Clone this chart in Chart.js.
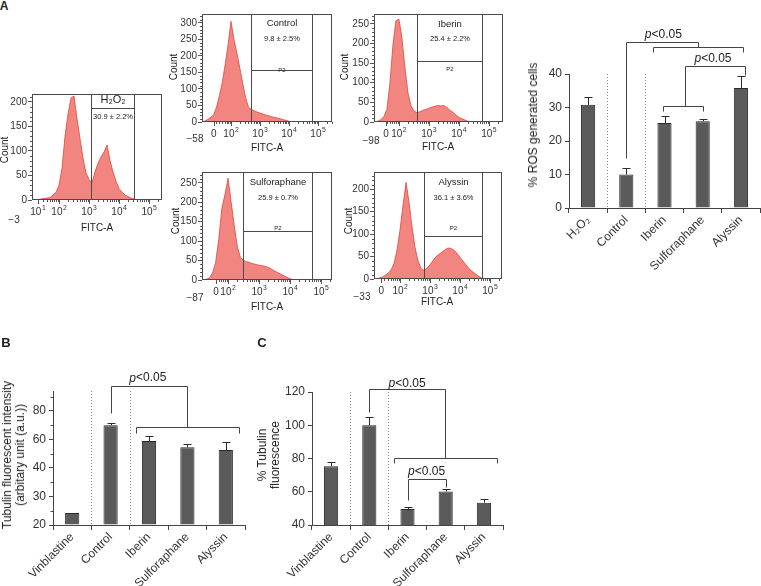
<!DOCTYPE html>
<html>
<head>
<meta charset="utf-8">
<script src="https://cdn.jsdelivr.net/npm/chart.js@4.4.1/dist/chart.umd.min.js"></script>
<style>
  html, body { margin: 0; padding: 0; background: #fff; }
  #fig { position: relative; width: 761px; height: 586px; overflow: hidden;
         font-family: "Liberation Sans", Arial, sans-serif; color: #222; }
  .lbl { position: absolute; white-space: nowrap; text-align: center; }
</style>
</head>
<body>
<div id="fig"></div>
<script>
const FONT = '"Liberation Sans", Arial, sans-serif';

// flow cytometry histograms, x in display decades (2 = 10^2, 3 = 10^3 ...)
const FACS_BINS = [1.0, 1.1, 1.2, 1.3, 1.4, 1.5, 1.6, 1.7, 1.8, 1.9,
                   2.0, 2.1, 2.2, 2.3, 2.4, 2.5, 2.6, 2.7, 2.8, 2.9,
                   3.0, 3.1, 3.2, 3.3, 3.4, 3.5, 3.6, 3.7, 3.8, 3.9,
                   4.0, 4.1, 4.2, 4.3, 4.4, 4.5, 4.6, 4.7, 4.8, 4.9];
const COUNTS_H2O2 = [0, 0, 0, 1, 2, 3, 4, 5, 10, 16,
                     30, 65, 130, 175, 208, 212, 165, 125, 85, 55,
                     42, 35, 58, 75, 88, 98, 112, 80, 57, 38,
                     23, 16, 10, 7, 4, 2, 0, 0, 0, 0];
const COUNTS_CONTROL = [0, 3, 8, 14, 22, 45, 80, 120, 175, 235,
                        305, 250, 210, 165, 118, 75, 45, 38, 34, 30,
                        27, 24, 21, 19, 16, 14, 12, 10, 7, 5,
                        2, 1, 0, 0, 0, 0, 0, 0, 0, 0];
const COUNTS_IBERIN = [0, 0, 0, 2, 6, 14, 32, 98, 195, 258,
                       262, 215, 140, 75, 42, 28, 24, 26, 30, 32,
                       35, 38, 40, 42, 41, 42, 37, 30, 25, 18,
                       12, 8, 5, 2, 0, 0, 0, 0, 0, 0];
const COUNTS_SULFORAPHANE = [0, 0, 0, 2, 5, 18, 45, 105, 185, 220,
                             262, 200, 140, 85, 58, 50, 47, 45, 42, 40,
                             38, 37, 35, 32, 28, 23, 19, 15, 11, 7,
                             3, 1, 0, 0, 0, 0, 0, 0, 0, 0];
const COUNTS_ALYSSIN = [0, 0, 0, 2, 4, 8, 13, 20, 35, 65,
                        110, 165, 215, 170, 115, 70, 40, 23, 19, 24,
                        32, 41, 50, 55, 60, 65, 69, 68, 64, 57,
                        48, 40, 31, 23, 17, 12, 7, 3, 0, 0];
const FACS_TICK_LABELS = ['0', '10²', '10³', '10⁴', '10⁵'];
const H2O2_TICK_LABELS = ['10¹', '10²', '10³', '10⁴', '10⁵'];

// bar charts
const ROS_LABELS = ['H₂O₂', 'Control', 'Iberin', 'Sulforaphane', 'Alyssin'];
const ROS_MEAN = [30.8, 10.0, 25.4, 25.9, 35.8];
const ROS_SD = [2.3, 1.9, 2.1, 0.6, 3.7];

const TUB_LABELS = ['Vinblastine', 'Control', 'Iberin', 'Sulforaphane', 'Alyssin'];
const TUB_INT_MEAN = [24.2, 70, 59, 54.5, 52.6];
const TUB_INT_SD = [0, 1.8, 3.5, 2.5, 5.8];
const TUB_INT_TICKS = [20, 30, 40, 60, 80];

const TUB_PCT_MEAN = [75.4, 100, 49.6, 60.2, 53.4];
const TUB_PCT_SD = [2.6, 5.2, 1.4, 1.2, 2.4];

const SUPER = { '¹': '1', '²': '2', '³': '3', '⁴': '4', '⁵': '5' };

const fig = document.getElementById('fig');

function addText(html, x, y, size, opts = {}) {
  const d = document.createElement('div');
  d.className = 'lbl';
  d.innerHTML = html;
  d.style.left = x + 'px';
  d.style.top = y + 'px';
  d.style.fontSize = size + 'px';
  d.style.lineHeight = (opts.lh || Math.round(size * 1.15)) + 'px';
  if (opts.bold) d.style.fontWeight = 'bold';
  d.style.transform = 'translate(-50%,-50%)' + (opts.rot ? ' rotate(-90deg)' : '');
  fig.appendChild(d);
}

function makeCanvas(box) {
  const c = document.createElement('canvas');
  c.width = box[2] - box[0];
  c.height = box[3] - box[1];
  c.style.cssText = `position:absolute;left:${box[0]}px;top:${box[1]}px;width:${c.width}px;height:${c.height}px`;
  fig.appendChild(c);
  return c;
}

// pin the chart area to a fixed rectangle inside the canvas
function fitLayout(box, area) {
  return {
    layout: { autoPadding: false, padding: { left: 0, bottom: 0, top: area[1] - box[1], right: box[2] - area[2] } },
    yW: area[0] - box[0],
    xH: box[3] - area[3]
  };
}

const px = (scale, v) => Math.round(scale.getPixelForValue(v)) + 0.5;

// "10²" -> 10 with a small raised exponent
function drawPow(ctx, lab, cx, cy, f) {
  const last = lab.slice(-1);
  const base = SUPER[last] ? lab.slice(0, -1) : lab;
  const exp = SUPER[last] || '';
  ctx.font = `${f}px ${FONT}`;
  const wb = ctx.measureText(base).width;
  ctx.font = `${f * 0.68}px ${FONT}`;
  const we = exp ? ctx.measureText(exp).width + 0.5 : 0;
  const x0 = cx - (wb + we) / 2;
  ctx.textAlign = 'left';
  ctx.textBaseline = 'middle';
  ctx.font = `${f}px ${FONT}`;
  ctx.fillText(base, x0, cy);
  if (exp) {
    ctx.font = `${f * 0.68}px ${FONT}`;
    ctx.fillText(exp, x0 + wb + 0.5, cy - f * 0.42);
  }
}

function facsDecor(p) {
  return {
    id: 'facsDecor',
    afterDatasetsDraw(chart) {
      const { ctx, chartArea: a, scales: { x, y } } = chart;
      ctx.save();
      ctx.strokeStyle = '#4a4a4a';
      ctx.lineWidth = 1;
      ctx.strokeRect(a.left + 0.5, a.top + 0.5, a.width - 1, a.height - 1);

      const g1 = px(x, p.gate[0]), g2 = px(x, p.gate[1]), gy = px(y, p.gateY);
      ctx.beginPath();
      ctx.moveTo(g1, a.bottom); ctx.lineTo(g1, a.top);
      ctx.moveTo(g2, a.bottom); ctx.lineTo(g2, a.top);
      ctx.moveTo(g1, gy); ctx.lineTo(g2, gy);
      ctx.stroke();

      // ticks on the FITC axis plus minor ticks on both axes
      ctx.strokeStyle = '#555';
      ctx.beginPath();
      for (const v of p.tickPos) {
        const xx = px(x, v);
        ctx.moveTo(xx, a.bottom); ctx.lineTo(xx, a.bottom + 4);
      }
      for (let c = 10; c < p.yMax; c += 10) {
        if (c % 50 === 0) continue;
        const py = px(y, c);
        ctx.moveTo(a.left, py); ctx.lineTo(a.left - 2, py);
      }
      for (let d = 1; d <= 5; d++) {
        for (let k = 2; k <= 9; k++) {
          const v = d + Math.log10(k);
          if (v <= p.tickPos[0] || v >= p.xMax) continue;
          const xx = px(x, v);
          ctx.moveTo(xx, a.bottom); ctx.lineTo(xx, a.bottom + 2);
        }
      }
      ctx.stroke();

      ctx.fillStyle = '#333';
      p.tickLab.forEach((lab, i) => drawPow(ctx, lab, x.getPixelForValue(p.tickPos[i]), a.bottom + 12.5, p.font));
      ctx.textAlign = 'center';
      ctx.textBaseline = 'middle';
      ctx.font = `${p.font}px ${FONT}`;
      ctx.fillText(p.neg, a.left + p.negOff[0], a.bottom + p.negOff[1]);

      const cx = (g1 + g2) / 2;
      ctx.fillStyle = '#222';
      ctx.font = `${p.nameSize}px ${FONT}`;
      ctx.fillText(p.name, cx, a.top + p.nameDy);
      ctx.font = `7.5px ${FONT}`;
      ctx.fillText(p.stat, cx, a.top + p.statDy);
      if (p.p2 != null) {
        ctx.font = `6px ${FONT}`;
        ctx.fillText('P2', cx, y.getPixelForValue(p.p2));
      }
      ctx.restore();
    }
  };
}

function drawFacs(p) {
  const canvas = makeCanvas(p.box);
  const fit = fitLayout(p.box, p.area);
  new Chart(canvas, {
    type: 'line',
    data: {
      datasets: [{
        data: FACS_BINS.map((b, i) => ({ x: b, y: p.counts[i] })),
        fill: 'origin',
        backgroundColor: 'rgba(240,112,104,0.85)',
        borderColor: '#e2443d',
        borderWidth: 0.8,
        pointRadius: 0,
        tension: 0
      }]
    },
    options: {
      responsive: false,
      animation: false,
      layout: fit.layout,
      plugins: { legend: { display: false }, tooltip: { enabled: false } },
      scales: {
        x: {
          type: 'linear', min: p.xMin, max: p.xMax,
          afterFit: (s) => { s.height = fit.xH; },
          ticks: { display: false },
          grid: { display: false },
          border: { display: false }
        },
        y: {
          min: 0, max: p.yMax,
          afterFit: (s) => { s.width = fit.yW; },
          ticks: { stepSize: 50, includeBounds: false, padding: 1, color: '#333', font: { size: p.font } },
          grid: { drawOnChartArea: false, tickLength: 4, color: '#555' },
          border: { display: false }
        }
      }
    },
    plugins: [facsDecor(p)]
  });
}

function drawP(ctx, cx, cy) {
  const it = `italic 12px ${FONT}`, nm = `12px ${FONT}`;
  ctx.font = it; const w1 = ctx.measureText('p').width;
  ctx.font = nm; const w2 = ctx.measureText('<0.05').width;
  const x0 = cx - (w1 + w2) / 2;
  ctx.fillStyle = '#222';
  ctx.textAlign = 'left';
  ctx.textBaseline = 'middle';
  ctx.font = it; ctx.fillText('p', x0, cy);
  ctx.font = nm; ctx.fillText('<0.05', x0 + w1, cy);
}

function barDecor(cfg, map) {
  return {
    id: 'barDecor',
    afterDatasetsDraw(chart) {
      const { ctx, scales: { x, y } } = chart;
      ctx.save();
      ctx.lineWidth = 1;

      ctx.strokeStyle = '#8a8a8a';
      ctx.setLineDash([1, 2]);
      for (const s of [0.5, 1.5]) {
        const xx = px(x, s);
        ctx.beginPath(); ctx.moveTo(xx, y.top); ctx.lineTo(xx, y.bottom); ctx.stroke();
      }
      ctx.setLineDash([]);

      // upper error whiskers
      const meta = chart.getDatasetMeta(0);
      ctx.strokeStyle = '#2a2a2a';
      ctx.beginPath();
      cfg.means.forEach((m, i) => {
        if (!cfg.sds[i]) return;
        const bx = Math.round(meta.data[i].x) + 0.5;
        const top = px(y, map(m + cfg.sds[i]));
        ctx.moveTo(bx, meta.data[i].y); ctx.lineTo(bx, top);
        ctx.moveTo(bx - 4, top); ctx.lineTo(bx + 4, top);
      });
      ctx.stroke();

      if (cfg.minor) {
        ctx.strokeStyle = '#444';
        ctx.beginPath();
        for (let v = cfg.yMin + cfg.minor; v < cfg.yMax; v += cfg.yStep) {
          const py = px(y, v);
          ctx.moveTo(x.left, py); ctx.lineTo(x.left - 2.5, py);
        }
        ctx.stroke();
      }

      // significance brackets
      ctx.strokeStyle = '#444';
      for (const path of cfg.brackets) {
        ctx.beginPath();
        path.forEach(([ix, v], j) => {
          const xx = px(x, ix), yy = px(y, map(v));
          if (j) ctx.lineTo(xx, yy); else ctx.moveTo(xx, yy);
        });
        ctx.stroke();
      }
      for (const [ix, v] of cfg.pLabels) drawP(ctx, x.getPixelForValue(ix), y.getPixelForValue(map(v)));
      ctx.restore();
    }
  };
}

function drawBars(cfg) {
  const canvas = makeCanvas(cfg.box);
  const fit = fitLayout(cfg.box, cfg.area);
  const map = cfg.map || (v => v);
  const yTicks = { stepSize: cfg.yStep, includeBounds: false, padding: 3, color: '#333', font: { size: 12 } };
  if (cfg.tickLabel) yTicks.callback = cfg.tickLabel;
  new Chart(canvas, {
    type: 'bar',
    data: {
      labels: cfg.labels,
      datasets: [{
        data: cfg.means.map(map),
        backgroundColor: '#5a5a5a',
        borderColor: '#2a2a2a',
        borderWidth: 1,
        categoryPercentage: 1,
        barPercentage: 0.37
      }]
    },
    options: {
      responsive: false,
      animation: false,
      layout: fit.layout,
      plugins: { legend: { display: false }, tooltip: { enabled: false } },
      scales: {
        x: {
          afterFit: (s) => { s.height = fit.xH; },
          ticks: { minRotation: 45, maxRotation: 45, autoSkip: false, padding: 0, color: '#333', font: { size: 12 } },
          grid: { offset: true, drawOnChartArea: false, tickLength: 5, color: '#444' },
          border: { color: '#444' }
        },
        y: {
          min: cfg.yMin, max: cfg.yMax,
          afterFit: (s) => { s.width = fit.yW; },
          ticks: yTicks,
          grid: { drawOnChartArea: false, tickLength: 4, color: '#444' },
          border: { color: '#444' }
        }
      }
    },
    plugins: [barDecor(cfg, map)]
  });
}

// piecewise axis of panel B: ticks 20, 30, 40, 60, 80 equally spaced
function toTubAxis(v) {
  const t = TUB_INT_TICKS;
  if (v <= t[0]) return (v - t[0]) / (t[1] - t[0]);
  for (let i = 0; i < t.length - 1; i++) {
    if (v <= t[i + 1]) return i + (v - t[i]) / (t[i + 1] - t[i]);
  }
  const n = t.length - 1;
  return n + (v - t[n]) / (t[n] - t[n - 1]);
}

const FACS_PANELS = [
  { counts: COUNTS_H2O2, box: [0, 84, 172, 240], area: [32, 94, 162, 200], xMin: 1.1, xMax: 5.43, yMax: 216,
    tickPos: [1.3, 2, 3, 4, 5], tickLab: H2O2_TICK_LABELS, neg: '−3', negOff: [-18, 20], font: 10,
    gate: [3.07, 4.5], gateY: 188, name: 'H₂O₂', nameSize: 11, nameDy: 6, stat: '30.9 ± 2.2%', statDy: 23, p2: null },
  { counts: COUNTS_CONTROL, box: [165, 0, 340, 160], area: [202, 14, 332, 122], xMin: 1.0, xMax: 5.48, yMax: 327,
    tickPos: [1.41, 2, 3, 4, 5], tickLab: FACS_TICK_LABELS, neg: '−58', negOff: [-7, 17], font: 10,
    gate: [2.69, 4.79], gateY: 157, name: 'Control', nameSize: 9.5, nameDy: 9, stat: '9.8 ± 2.5%', statDy: 25, p2: 157 },
  { counts: COUNTS_IBERIN, box: [340, 0, 515, 160], area: [374, 14, 503, 122], xMin: 1.17, xMax: 5.47, yMax: 275,
    tickPos: [1.57, 2, 3, 4, 5], tickLab: FACS_TICK_LABELS, neg: '−98', negOff: [-3, 19], font: 10,
    gate: [2.6, 4.77], gateY: 156, name: 'Iberin', nameSize: 9.5, nameDy: 10, stat: '25.4 ± 2.2%', statDy: 25, p2: 133 },
  { counts: COUNTS_SULFORAPHANE, box: [165, 160, 340, 320], area: [202, 172, 332, 280], xMin: 1.16, xMax: 5.35, yMax: 278,
    tickPos: [1.61, 2, 3, 4, 5], tickLab: FACS_TICK_LABELS, neg: '−87', negOff: [-7, 18], font: 10,
    gate: [2.48, 4.71], gateY: 127, name: 'Sulforaphane', nameSize: 9.5, nameDy: 10, stat: '25.9 ± 0.7%', statDy: 26, p2: 132 },
  { counts: COUNTS_ALYSSIN, box: [340, 160, 515, 320], area: [374, 172, 502, 279], xMin: 1.13, xMax: 5.4, yMax: 238,
    tickPos: [1.37, 2, 3, 4, 5], tickLab: FACS_TICK_LABELS, neg: '−33', negOff: [-12, 18], font: 10,
    gate: [2.8, 4.73], gateY: 96, name: 'Alyssin', nameSize: 9.5, nameDy: 10, stat: '36.1 ± 3.6%', statDy: 26, p2: 113 }
];
FACS_PANELS.forEach(drawFacs);

drawBars({
  box: [515, 0, 761, 300], area: [569, 74, 760, 208],
  labels: ROS_LABELS, means: ROS_MEAN, sds: ROS_SD,
  yMin: 0, yMax: 40, yStep: 10,
  brackets: [
    [[1, 14.9], [1, 49.6], [2.87, 49.6], [2.87, 48.1]],
    [[1.7, 46.6], [1.7, 48.1], [4.05, 48.1], [4.05, 46.6]],
    [[2.54, 30.4], [2.54, 42.4], [4.1, 42.4], [4.1, 39.7]],
    [[1.97, 29.0], [1.97, 30.4], [3.0, 30.4], [3.0, 29.0]]
  ],
  pLabels: [[1.97, 51.6], [3.27, 44.5]]
});

drawBars({
  box: [0, 335, 252, 586], area: [53, 391, 245, 525],
  labels: TUB_LABELS, means: TUB_INT_MEAN, sds: TUB_INT_SD, map: toTubAxis,
  yMin: 0, yMax: 4.7, yStep: 1, minor: 0.5,
  tickLabel: (v) => (Number.isInteger(v) ? TUB_INT_TICKS[v] : ''),
  brackets: [
    [[1, 78.6], [1, 97.6], [3, 97.6], [3, 68.8]],
    [[1.65, 64.6], [1.65, 68.8], [4.34, 68.8], [4.34, 64.6]]
  ],
  pLabels: [[1.97, 103]]
});

drawBars({
  box: [252, 335, 515, 586], area: [312, 392, 503, 525],
  labels: TUB_LABELS, means: TUB_PCT_MEAN, sds: TUB_PCT_SD,
  yMin: 40, yMax: 120, yStep: 20,
  brackets: [
    [[1, 107.8], [1, 121.6], [2.97, 121.6], [2.97, 80.2]],
    [[1.65, 77.2], [1.65, 80.2], [4.34, 80.2], [4.34, 77.2]],
    [[2, 55], [2, 67.6], [3, 67.6], [3, 62.8]]
  ],
  pLabels: [[1.99, 125.2], [2.5, 71.8]]
});

// panel letters and axis titles
addText('A', 4, 6, 12, { bold: true });
addText('B', 6, 342, 13, { bold: true });
addText('C', 262, 342, 13, { bold: true });

addText('Count', 5, 150, 10, { rot: true });
addText('Count', 174, 67, 10, { rot: true });
addText('Count', 345, 67, 10, { rot: true });
addText('Count', 176, 221, 10, { rot: true });
addText('Count', 349, 221, 10, { rot: true });
addText('FITC-A', 97, 228, 10);
addText('FITC-A', 267, 148, 10);
addText('FITC-A', 438, 147, 10);
addText('FITC-A', 267, 307, 10);
addText('FITC-A', 437, 302, 10);

addText('% ROS generated cells', 533, 125, 12, { rot: true });
addText('Tubulin fluorescent intensity<br>(arbitary unit (a.u.))', 14, 455, 12, { rot: true, lh: 13 });
addText('% Tubulin<br>fluorescence', 269, 455, 12, { rot: true, lh: 13 });
</script>
</body>
</html>
